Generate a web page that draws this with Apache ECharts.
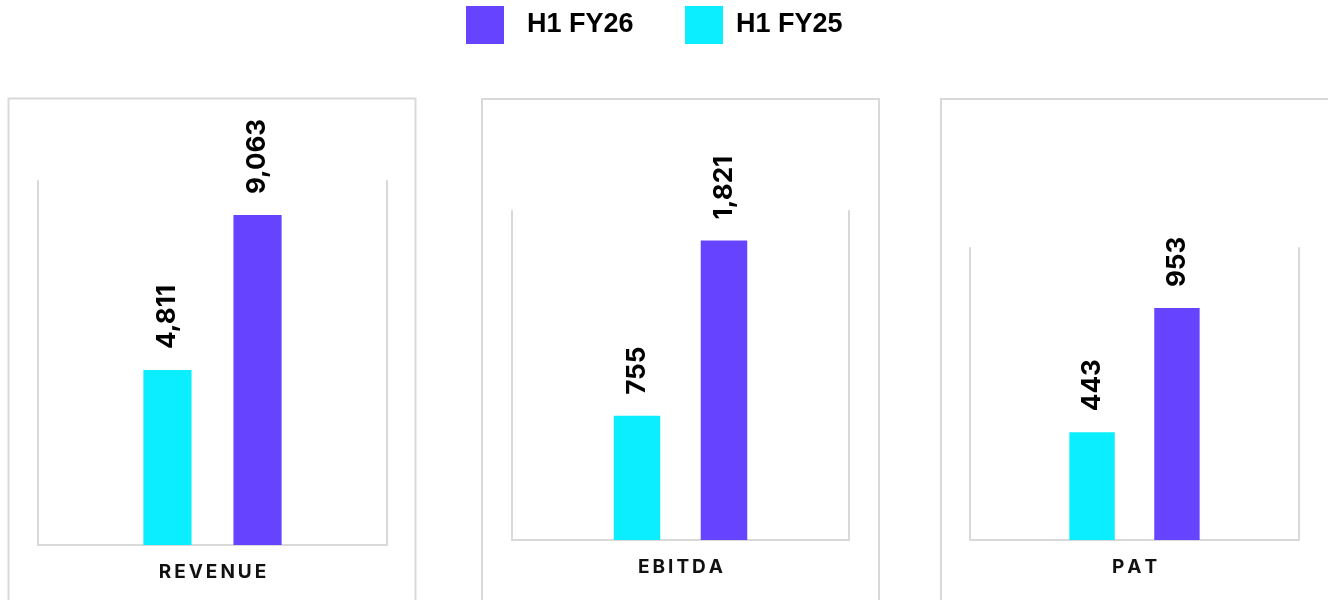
<!DOCTYPE html>
<html>
<head>
<meta charset="utf-8">
<script src="https://cdn.jsdelivr.net/npm/echarts@6/dist/echarts.min.js"></script>
<style>
  html, body { margin: 0; padding: 0; background: #fff; }
  #main { width: 1328px; height: 600px; }
</style>
</head>
<body>
<div id="main"></div>
<script>
// data
var categories = ['REVENUE', 'EBITDA', 'PAT']
var fy25 = [4811, 755, 443]
var fy26 = [9063, 1821, 953]
var axisMax = [10000, 2000, 1200]

var chart = echarts.init(document.getElementById('main'))

// panel layout (outer box + plot area)
var boxes = [
  { x: 8.5, y: 98.5, w: 407 },
  { x: 482, y: 99, w: 397 },
  { x: 941, y: 99, w: 420 }
]
var grids = [
  { left: 38, top: 181, width: 349, height: 364 },
  { left: 512, top: 211, width: 337, height: 329 },
  { left: 970, top: 248, width: 329, height: 292 }
]

var lineGray = '#d9d9d9'
var thin = '\u2009'

function spaced (s) {
  return s.split('').join(thin)
}

var xAxes = []
var yAxes = []
var series = []
var graphics = []

for (var i = 0; i < categories.length; i++) {
  graphics.push({
    type: 'rect',
    shape: { x: boxes[i].x, y: boxes[i].y, width: boxes[i].w, height: 600 },
    style: { fill: 'none', stroke: lineGray, lineWidth: 2 },
    silent: true
  })
  xAxes.push({
    type: 'category',
    gridIndex: i,
    data: [categories[i]],
    axisLine: { show: true, lineStyle: { color: lineGray, width: 2 } },
    axisTick: { show: false },
    axisLabel: {
      margin: 18,
      fontFamily: 'Inter',
      fontWeight: 'bold',
      fontSize: 19,
      color: '#111',
      formatter: spaced
    }
  })
  // left and right frame lines
  yAxes.push({
    type: 'value',
    gridIndex: i,
    position: 'left',
    min: 0,
    max: axisMax[i],
    axisLine: { show: true, lineStyle: { color: lineGray, width: 2 } },
    axisTick: { show: false },
    axisLabel: { show: false },
    splitLine: { show: false }
  })
  yAxes.push({
    type: 'value',
    gridIndex: i,
    position: 'right',
    min: 0,
    max: axisMax[i],
    axisLine: { show: true, lineStyle: { color: lineGray, width: 2 } },
    axisTick: { show: false },
    axisLabel: { show: false },
    splitLine: { show: false }
  })
  var label = {
    show: true,
    position: 'top',
    rotate: 90,
    align: 'left',
    verticalAlign: 'middle',
    distance: 21,
    fontFamily: 'Inter',
    fontWeight: 'bold',
    fontSize: 26,
    color: '#000',
    formatter: function (p) { return p.value.toLocaleString('en-US') }
  }
  series.push({
    name: 'H1 FY25',
    type: 'bar',
    xAxisIndex: i,
    yAxisIndex: i * 2,
    data: [fy25[i]],
    barWidth: '13.8%',
    barGap: '87%',
    itemStyle: { color: '#0aeeff' },
    label: label
  })
  series.push({
    name: 'H1 FY26',
    type: 'bar',
    xAxisIndex: i,
    yAxisIndex: i * 2,
    data: [fy26[i]],
    barWidth: '13.8%',
    barGap: '87%',
    itemStyle: { color: '#6644ff' },
    label: label
  })
}

var legendText = {
  fontFamily: 'Liberation Sans',
  fontWeight: 'bold',
  fontSize: 27,
  color: '#000'
}

var option = {
  animation: false,
  legend: [
    {
      data: ['H1 FY26'],
      left: 466,
      top: 6,
      padding: 0,
      icon: 'rect',
      itemWidth: 38,
      itemHeight: 38,
      textStyle: Object.assign({ padding: [0, 0, 0, 18] }, legendText)
    },
    {
      data: ['H1 FY25'],
      left: 685,
      top: 6,
      padding: 0,
      icon: 'rect',
      itemWidth: 38,
      itemHeight: 38,
      textStyle: Object.assign({ padding: [0, 0, 0, 8] }, legendText)
    }
  ],
  grid: grids,
  xAxis: xAxes,
  yAxis: yAxes,
  series: series,
  graphic: graphics
}

option && chart.setOption(option)
</script>
</body>
</html>
